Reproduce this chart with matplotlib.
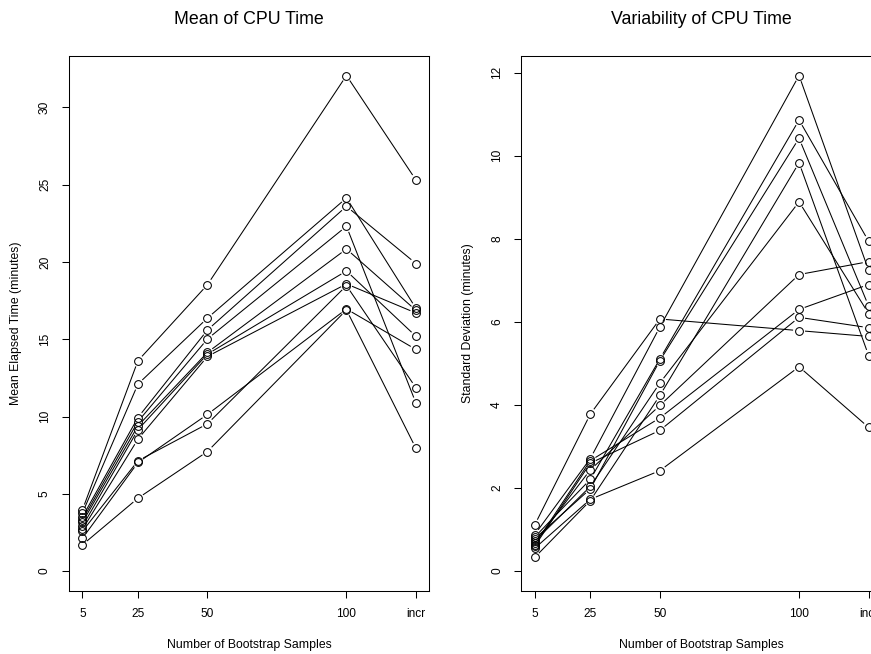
import numpy as np
import matplotlib
matplotlib.use("Agg")
import matplotlib.pyplot as plt

plt.rcParams['font.family'] = ['Liberation Sans', 'DejaVu Sans']

# bootstrap sample counts, "incr" is drawn at 125
samples = [5, 25, 50, 100, 125]
sample_labels = ['5', '25', '50', '100', 'incr']

# mean elapsed time (minutes), one row per run
mean_time = [
    [3.95, 13.61, 18.53, 32.06, 25.30],
    [3.75, 12.10, 16.37, 24.14, 17.00],
    [3.50, 9.94, 15.60, 23.60, 19.90],
    [3.32, 9.68, 15.02, 22.31, 10.87],
    [3.15, 9.40, 14.15, 20.84, 16.87],
    [2.90, 9.15, 14.04, 19.42, 15.19],
    [2.70, 8.54, 13.89, 18.58, 16.70],
    [2.58, 7.14, 9.53, 18.47, 11.86],
    [2.12, 7.03, 10.14, 16.96, 14.34],
    [1.70, 4.72, 7.74, 16.90, 7.94],
]

# standard deviation (minutes)
sd_time = [
    [1.11, 3.78, 6.07, 5.79, 5.65],
    [0.88, 2.71, 5.88, 11.93, 7.24],
    [0.82, 2.21, 5.11, 10.86, 7.94],
    [0.78, 1.98, 5.07, 10.42, 6.38],
    [0.72, 2.04, 4.53, 8.89, 6.20],
    [0.64, 2.66, 3.69, 6.30, 6.90],
    [0.60, 2.60, 3.39, 6.11, 5.86],
    [0.68, 2.44, 3.99, 7.14, 7.45],
    [0.55, 1.73, 2.42, 4.92, 3.46],
    [0.33, 1.70, 4.23, 9.83, 5.19],
]


def draw_b(ax, x, y, gap=6):
    # like R type="b": segments stop short of the points
    pts = ax.transData.transform(np.column_stack([x, y]))
    inv = ax.transData.inverted()
    for p0, p1 in zip(pts[:-1], pts[1:]):
        d = p1 - p0
        n = np.hypot(d[0], d[1])
        if n <= 2 * gap:
            continue
        u = d / n
        seg = inv.transform(np.array([p0 + u * gap, p1 - u * gap]))
        ax.plot(seg[:, 0], seg[:, 1], color='black', lw=0.75, solid_capstyle='butt')
    ax.plot(x, y, 'o', mfc='none', mec='black', ms=5.6, mew=0.75)


def panel(ax, data, title, ylabel, yticks):
    x0, x1 = min(samples), max(samples)
    ymax = max(max(r) for r in data)
    ax.set_xlim(x0 - 0.04 * (x1 - x0), x1 + 0.04 * (x1 - x0))
    ax.set_ylim(-0.04 * ymax, 1.04 * ymax)
    for row in data:
        draw_b(ax, samples, row)
    ax.set_xticks(samples)
    ax.set_xticklabels(sample_labels)
    ax.set_yticks(yticks)
    ax.set_yticklabels([str(v) for v in yticks], rotation=90, va='center')
    ax.tick_params(direction='out', length=5, width=0.75, labelsize=8.6)
    ax.tick_params(axis='x', pad=7)
    ax.tick_params(axis='y', pad=8)
    for s in ax.spines.values():
        s.set_linewidth(0.75)
    ax.set_title(title, fontsize=12.8, pad=23)
    ax.set_xlabel('Number of Bootstrap Samples', fontsize=8.8)
    ax.set_ylabel(ylabel, fontsize=8.8)
    ax.xaxis.set_label_coords(0.5, -0.089)
    ax.yaxis.set_label_coords(-0.13, 0.5)


fig = plt.figure(figsize=(8.71, 6.54), dpi=100)
ax1 = fig.add_axes([69 / 871, 63 / 654, 360.3 / 871, 535.3 / 654])
ax2 = fig.add_axes([521.3 / 871, 63 / 654, 360.7 / 871, 535.3 / 654])

panel(ax1, mean_time, 'Mean of CPU Time', 'Mean Elapsed Time (minutes)', [0, 5, 10, 15, 20, 25, 30])
panel(ax2, sd_time, 'Variability of CPU Time', 'Standard Deviation (minutes)', [0, 2, 4, 6, 8, 10, 12])

fig.savefig('out.png', dpi=100)
